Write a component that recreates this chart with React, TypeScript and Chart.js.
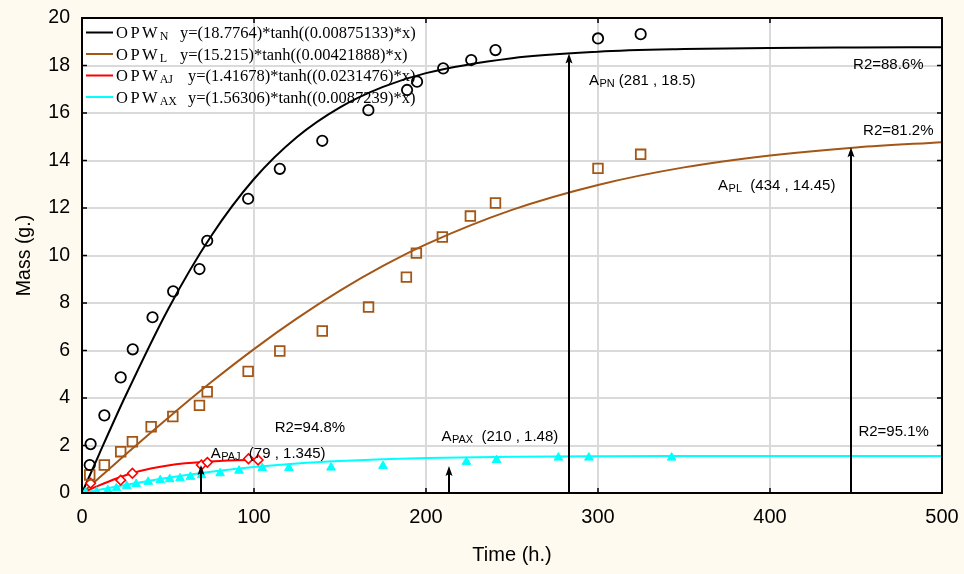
import React, { useEffect, useRef } from 'react';
import { Chart, registerables } from 'chart.js';

Chart.register(...registerables);

// ---------- data ----------
const nX = [4.5, 5, 13, 22.5, 29.5, 41, 53, 68.3, 72.8, 96.6, 115, 139.7, 166.5, 189, 194.8, 210, 226.3, 240.4, 300, 324.8];
const nY = [1.18, 2.06, 3.27, 4.87, 6.05, 7.4, 8.49, 9.43, 10.62, 12.39, 13.65, 14.83, 16.12, 16.97, 17.32, 17.88, 18.23, 18.65, 19.14, 19.32];

const lX = [4.5, 13, 22.5, 29.3, 40.2, 52.8, 68.3, 72.8, 96.6, 115, 139.7, 166.6, 188.6, 194.4, 209.5, 225.8, 240.4, 300, 324.8];
const lY = [0.76, 1.18, 1.74, 2.16, 2.79, 3.22, 3.69, 4.26, 5.12, 5.98, 6.82, 7.83, 9.09, 10.1, 10.78, 11.66, 12.21, 13.67, 14.26];

const ajX = [5, 22.5, 29.3, 69.4, 72.9, 96.8, 102.4];
const ajY = [0.41, 0.54, 0.83, 1.18, 1.29, 1.44, 1.39];

const axX = [2, 8.5, 15, 20, 26, 31.5, 38.5, 45.5, 51, 57, 63, 69.5, 80.3, 91.3, 104.8, 120.3, 144.8, 175, 223.5, 241, 277, 294.7, 342.8];
const axY = [0.02, 0.05, 0.12, 0.2, 0.3, 0.38, 0.47, 0.54, 0.58, 0.62, 0.68, 0.75, 0.83, 0.94, 1.05, 1.05, 1.07, 1.14, 1.31, 1.39, 1.49, 1.49, 1.49];

const curveX = [0, 10, 25, 50, 75, 100, 125, 150, 175, 200, 250, 300, 350, 400, 450, 500];
const curveN = [0, 1.64, 4.04, 7.73, 10.81, 13.22, 14.99, 16.24, 17.1, 17.68, 18.31, 18.58, 18.69, 18.74, 18.76, 18.77];
const curveL = [0, 0.64, 1.6, 3.16, 4.66, 6.06, 7.35, 8.52, 9.56, 10.47, 11.92, 12.97, 13.71, 14.21, 14.55, 14.77];
const curveAX = [0, 0.136, 0.336, 0.642, 0.898, 1.098, 1.246, 1.35, 1.422, 1.471, 1.524, 1.547, 1.556, 1.56, 1.562, 1.563];
const curveAJX = [0, 10, 20, 30, 40, 50, 60, 70, 80, 90, 103];
const curveAJ = [0, 0.322, 0.613, 0.851, 1.032, 1.162, 1.251, 1.31, 1.349, 1.374, 1.393];

const xMin = 0, xMax = 500, xStep = 100;
const yMin = 0, yMax = 20, yStep = 2;

const legendSubs = ['N', 'L', 'AJ', 'AX'];
const legendFormulas = [
  'y=(18.7764)*tanh((0.00875133)*x)',
  'y=(15.215)*tanh((0.00421888)*x)',
  'y=(1.41678)*tanh((0.0231476)*x)',
  'y=(1.56306)*tanh((0.0087239)*x)',
];

const arrowX = [69.4, 213.3, 283.2, 447];
const arrowTop = [1.18, 1.14, 18.51, 14.56];

const annoSub = ['PN', 'PL', 'PAX', 'PAJ'];
const annoRest = [' (281 , 18.5)', '  (434 , 14.45)', '  (210 , 1.48)', '  (79 , 1.345)'];
const annoX = [294.7, 369.8, 209, 74.8];
const annoY = [17.18, 12.74, 2.17, 1.47];

const r2Text = ['R2=88.6%', 'R2=81.2%', 'R2=94.8%', 'R2=95.1%'];
const r2X = [448.3, 454.1, 112, 451.4];
const r2Y = [17.85, 15.07, 2.57, 2.4];

// ---------- styles ----------
const BLACK = '#000000';
const BROWN = '#A35616';
const RED = '#FF0000';
const CYAN = '#00FFFF';
const CREAM = '#FEFAEF';
const SANS = '"Liberation Sans", Arial, sans-serif';
const SERIF = '"Liberation Serif", "Times New Roman", serif';
const colors = [BLACK, BROWN, RED, CYAN];

const zip = (xs: number[], ys: number[]) => xs.map((x, i) => ({ x, y: ys[i] }));

const decorPlugin = {
  id: 'decor',
  beforeDraw(chart: any) {
    const { ctx, chartArea: a } = chart;
    ctx.save();
    ctx.fillStyle = CREAM;
    ctx.fillRect(0, 0, chart.width, chart.height);
    ctx.fillStyle = '#FFFFFF';
    ctx.fillRect(a.left, a.top, a.right - a.left, a.bottom - a.top);
    ctx.restore();
  },
  afterDraw(chart: any) {
    const { ctx, chartArea: a, scales } = chart;
    const xs = scales.x, ys = scales.y;
    ctx.save();

    // arrows
    ctx.strokeStyle = BLACK;
    ctx.fillStyle = BLACK;
    ctx.lineWidth = 2;
    arrowX.forEach((xv, i) => {
      const px = Math.round(xs.getPixelForValue(xv));
      const pt = ys.getPixelForValue(arrowTop[i]);
      ctx.beginPath();
      ctx.moveTo(px, a.bottom);
      ctx.lineTo(px, pt + 7);
      ctx.stroke();
      ctx.beginPath();
      ctx.moveTo(px, pt);
      ctx.lineTo(px - 3.5, pt + 10);
      ctx.lineTo(px, pt + 8);
      ctx.lineTo(px + 3.5, pt + 10);
      ctx.closePath();
      ctx.fill();
    });

    // border
    ctx.lineWidth = 2;
    ctx.strokeStyle = BLACK;
    ctx.strokeRect(a.left, a.top, a.right - a.left, a.bottom - a.top);

    // inward ticks
    ctx.lineWidth = 1.5;
    ctx.beginPath();
    for (let v = xMin; v <= xMax; v += xStep) {
      const px = xs.getPixelForValue(v);
      ctx.moveTo(px, a.bottom); ctx.lineTo(px, a.bottom - 5);
      ctx.moveTo(px, a.top); ctx.lineTo(px, a.top + 5);
    }
    for (let v = yMin; v <= yMax; v += yStep) {
      const py = ys.getPixelForValue(v);
      ctx.moveTo(a.left, py); ctx.lineTo(a.left + 5, py);
      ctx.moveTo(a.right, py); ctx.lineTo(a.right - 5, py);
    }
    ctx.stroke();

    // R2 labels
    ctx.fillStyle = BLACK;
    ctx.textBaseline = 'alphabetic';
    ctx.textAlign = 'left';
    ctx.font = `15px ${SANS}`;
    r2Text.forEach((t, i) => {
      ctx.fillText(t, xs.getPixelForValue(r2X[i]), ys.getPixelForValue(r2Y[i]));
    });

    // A annotations
    annoSub.forEach((s, i) => {
      let px = xs.getPixelForValue(annoX[i]);
      const py = ys.getPixelForValue(annoY[i]);
      ctx.font = `15px ${SANS}`;
      ctx.fillText('A', px, py);
      px += ctx.measureText('A').width + 0.5;
      ctx.font = `11px ${SANS}`;
      ctx.fillText(s, px, py + 2);
      px += ctx.measureText(s).width;
      ctx.font = `15px ${SANS}`;
      ctx.fillText(annoRest[i], px, py);
    });

    // legend
    const rowBase = [38, 59.5, 81, 102.5];
    legendSubs.forEach((s, i) => {
      const by = rowBase[i];
      ctx.strokeStyle = colors[i];
      ctx.lineWidth = 2;
      ctx.beginPath();
      ctx.moveTo(86, by - 5.5);
      ctx.lineTo(113, by - 5.5);
      ctx.stroke();
      ctx.fillStyle = BLACK;
      ctx.font = `16.5px ${SERIF}`;
      let px = 116;
      for (const ch of 'OPW') {
        ctx.fillText(ch, px, by);
        px += ctx.measureText(ch).width + 2.5;
      }
      ctx.font = `12px ${SERIF}`;
      ctx.fillText(s, px - 0.5, by + 2);
      ctx.font = `16.5px ${SERIF}`;
      ctx.fillText(legendFormulas[i], i < 2 ? 180 : 188, by);
    });

    // axis titles
    ctx.fillStyle = BLACK;
    ctx.font = `20px ${SANS}`;
    ctx.textAlign = 'center';
    ctx.textBaseline = 'middle';
    ctx.fillText('Time (h.)', (a.left + a.right) / 2, 555);
    ctx.font = `19.5px ${SANS}`;
    ctx.save();
    ctx.translate(25, (a.top + a.bottom) / 2);
    ctx.rotate(-Math.PI / 2);
    ctx.fillText('Mass (g.)', 0, 0);
    ctx.restore();

    ctx.restore();
  },
};

export default function App() {
  const ref = useRef<HTMLCanvasElement | null>(null);

  useEffect(() => {
    document.body.style.margin = '0';
    document.body.style.background = CREAM;
    const canvas = ref.current!;
    const pts = (data: any, color: string, style: string, radius: number, bg: string, bw: number) => ({
      type: 'scatter' as const,
      data,
      showLine: false,
      pointStyle: style,
      pointRadius: radius,
      pointHoverRadius: radius,
      pointBorderColor: color,
      pointBackgroundColor: bg,
      pointBorderWidth: bw,
      borderColor: color,
      backgroundColor: bg,
      order: 0,
    });
    const line = (data: any, color: string) => ({
      type: 'line' as const,
      data,
      borderColor: color,
      borderWidth: 2,
      pointRadius: 0,
      fill: false,
      cubicInterpolationMode: 'monotone' as const,
      order: 1,
    });

    const chart = new Chart(canvas, {
      type: 'scatter',
      data: {
        datasets: [
          line(zip(curveX, curveN), BLACK),
          line(zip(curveX, curveL), BROWN),
          line(zip(curveAJX, curveAJ), RED),
          line(zip(curveX, curveAX), CYAN),
          pts(zip(nX, nY), BLACK, 'circle', 5.2, 'rgba(0,0,0,0)', 1.8),
          pts(zip(lX, lY), BROWN, 'rect', 6.8, 'rgba(0,0,0,0)', 1.8),
          pts(zip(ajX, ajY), RED, 'rectRot', 4.8, '#FFFFFF', 1.6),
          pts(zip(axX, axY), CYAN, 'triangle', 5, CYAN, 1),
        ] as any,
      },
      options: {
        animation: false,
        responsive: false,
        devicePixelRatio: 1,
        layout: { padding: { left: 0, top: 18, right: 22, bottom: 0 } },
        plugins: { legend: { display: false }, tooltip: { enabled: false } },
        scales: {
          x: {
            type: 'linear',
            min: xMin,
            max: xMax,
            ticks: { stepSize: xStep, color: BLACK, font: { size: 20, family: SANS }, padding: 12 },
            grid: { color: '#DADADA', lineWidth: 2, drawTicks: false },
            border: { display: false },
            afterFit: (s: any) => { s.height = 81; s.paddingLeft = 0; s.paddingRight = 0; },
          },
          y: {
            type: 'linear',
            min: yMin,
            max: yMax,
            ticks: { stepSize: yStep, color: BLACK, font: { size: 19.5, family: SANS }, padding: 12 },
            grid: { color: '#DADADA', lineWidth: 2, drawTicks: false },
            border: { display: false },
            afterFit: (s: any) => { s.width = 82; s.paddingTop = 0; s.paddingBottom = 0; },
          },
        },
      },
      plugins: [decorPlugin],
    });
    return () => chart.destroy();
  }, []);

  return <canvas ref={ref} width={964} height={574} style={{ display: 'block' }} />;
}
